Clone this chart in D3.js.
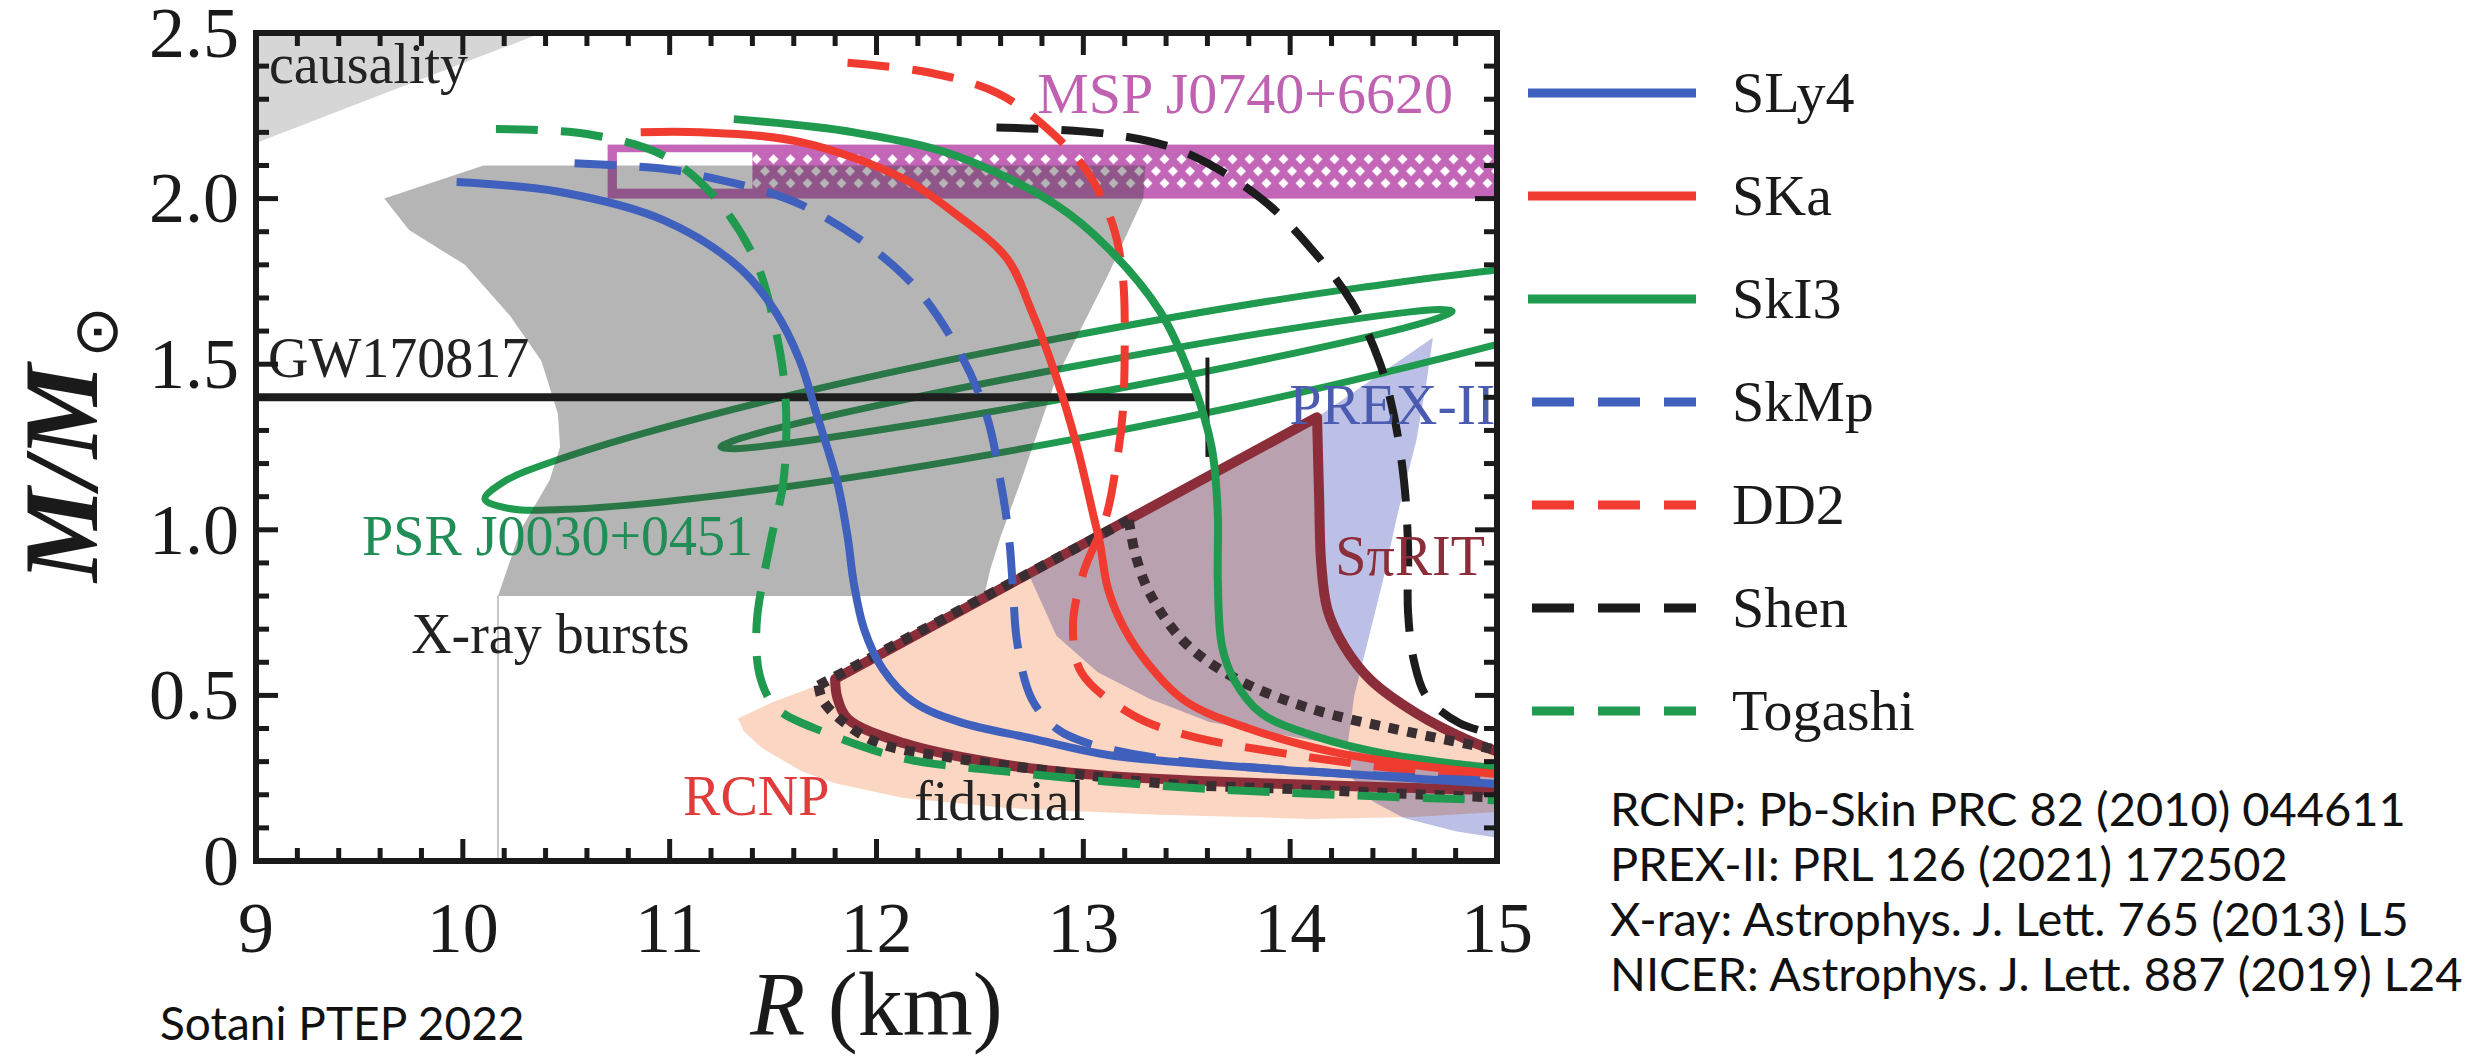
<!DOCTYPE html>
<html>
<head>
<meta charset="utf-8">
<title>Neutron star mass–radius constraints</title>
<script src="https://cdn.jsdelivr.net/npm/d3@7/dist/d3.min.js"></script>
<style>
  html, body { margin: 0; padding: 0; background: #ffffff; }
  svg { display: block; }
</style>
</head>
<body>
<svg id="chart" width="2481" height="1062"></svg>
<script>
// ---------- axis ranges and tick labels ----------
const radiusDomain = [9, 15];
const massDomain = [0, 2.5];
const radiusTicks = [9, 10, 11, 12, 13, 14, 15];
const radiusTickLabels = ["9", "10", "11", "12", "13", "14", "15"];
const massTicks = [0, 0.5, 1.0, 1.5, 2.0, 2.5];
const massTickLabels = ["0", "0.5", "1.0", "1.5", "2.0", "2.5"];

// ---------- EOS mass–radius relations, points are [R (km), M/Msun] ----------
const eosNames = ["SLy4", "SKa", "SkI3", "SkMp", "DD2", "Shen", "Togashi"];
const sly4 = [[9.97,2.05],[10.47,2.02],[10.97,1.935],[11.34,1.79],[11.51,1.66],[11.63,1.51],[11.71,1.35],[11.81,1.145],[11.86,0.98],[11.89,0.84],[11.94,0.70],[12.03,0.58],[12.18,0.48],[12.40,0.42],[12.75,0.37],[13.12,0.32],[13.86,0.28],[14.35,0.26],[15.05,0.23]];
const ska = [[10.86,2.20],[11.15,2.20],[11.64,2.17],[12.13,2.06],[12.38,1.955],[12.63,1.82],[12.75,1.66],[12.87,1.46],[12.97,1.25],[13.05,1.04],[13.08,0.96],[13.12,0.82],[13.20,0.70],[13.32,0.59],[13.50,0.48],[13.80,0.40],[14.20,0.33],[14.60,0.29],[15.05,0.26]];
const ski3 = [[11.31,2.24],[11.89,2.20],[12.38,2.13],[12.87,1.98],[13.12,1.85],[13.37,1.66],[13.52,1.46],[13.62,1.25],[13.65,1.05],[13.65,0.85],[13.67,0.65],[13.73,0.546],[13.86,0.446],[14.13,0.375],[14.45,0.325],[15.05,0.275]];
const skmp = [[10.54,2.107],[10.97,2.09],[11.15,2.07],[11.64,1.98],[12.13,1.77],[12.38,1.56],[12.53,1.35],[12.60,1.145],[12.64,0.98],[12.66,0.82],[12.68,0.66],[12.75,0.49],[12.87,0.40],[13.02,0.356],[13.37,0.31],[14.10,0.27],[15.05,0.24]];
const dd2 = [[11.86,2.41],[12.26,2.38],[12.58,2.32],[12.82,2.215],[13.02,2.08],[13.14,1.925],[13.19,1.77],[13.20,1.56],[13.19,1.35],[13.16,1.20],[13.11,1.04],[13.00,0.87],[12.95,0.71],[12.99,0.57],[13.24,0.44],[13.50,0.38],[13.97,0.325],[14.50,0.28],[15.05,0.25]];
const shen = [[12.58,2.215],[13.12,2.195],[13.49,2.14],[13.86,2.00],[14.10,1.85],[14.30,1.685],[14.43,1.51],[14.50,1.35],[14.55,1.15],[14.57,0.95],[14.57,0.75],[14.60,0.60],[14.66,0.496],[14.82,0.416],[15.05,0.375]];
const togashi = [[10.16,2.21],[10.60,2.195],[10.97,2.13],[11.21,2.01],[11.41,1.82],[11.51,1.61],[11.56,1.40],[11.55,1.145],[11.49,0.97],[11.42,0.71],[11.44,0.55],[11.52,0.46],[11.76,0.386],[12.13,0.31],[12.63,0.27],[13.37,0.227],[14.10,0.203],[15.05,0.182]];
const eosCurves = [sly4, ska, ski3, skmp, dd2, shen, togashi];

// ---------- observational and experimental constraints ----------
const causalityRegion = [[9,2.5],[10.38,2.5],[9,2.168]];
const xrayBurstRegion = [[9.62,2.00],[10.10,2.10],[13.30,2.10],[13.29,2.00],[13.12,1.77],[12.87,1.46],[12.70,1.15],[12.60,0.98],[12.55,0.88],[12.52,0.80],[10.17,0.80],[10.28,1.00],[10.42,1.15],[10.47,1.25],[10.46,1.35],[10.38,1.51],[10.23,1.645],[10.01,1.80],[9.74,1.905]];
const xrayBurstFoot = [[10.17,0],[10.17,0.80]];
const mspBandRadius = [10.70, 15.05];
const mspBandMass = [2.00, 2.163];
const mspWindowRadius = [10.745, 11.40];
const mspHatchRadius = [11.40, 15.05];
const mspInnerMass = [2.03, 2.14];
const gw170817Line = [[9,1.40],[13.54,1.40]];
const gw170817Limit = [[13.60,1.22],[13.60,1.52]];
const psrEllipseA = [[15.81,1.770],[15.455,1.649],[14.426,1.470],[13.006,1.280],[11.574,1.131],[10.513,1.062],[10.217,1.065],[10.107,1.093],[10.193,1.143],[10.466,1.213],[11.494,1.393],[12.914,1.582],[14.347,1.732],[15.408,1.800]];
const psrEllipseB = [[14.783,1.660],[14.726,1.642],[14.554,1.610],[13.911,1.519],[13.029,1.410],[12.143,1.314],[11.491,1.255],[11.311,1.245],[11.248,1.250],[11.304,1.268],[11.477,1.300],[12.120,1.391],[13.002,1.499],[13.888,1.596],[14.540,1.655],[14.720,1.665]];
const rcnpRegion = [[11.33,0.43],[11.50,0.48],[11.80,0.55],[14.13,1.34],[14.14,0.95],[14.18,0.76],[14.26,0.65],[14.39,0.546],[14.61,0.446],[14.86,0.365],[15.05,0.32],[15.05,0.15],[14.60,0.133],[14.10,0.127],[13.37,0.14],[12.63,0.16],[12.13,0.19],[11.80,0.235],[11.64,0.27],[11.45,0.34],[11.36,0.39]];
const prexRegion = [[12.74,0.86],[14.13,1.34],[14.69,1.58],[14.66,1.45],[14.61,1.27],[14.52,1.05],[14.45,0.85],[14.37,0.65],[14.31,0.50],[14.28,0.36],[14.30,0.25],[14.40,0.18],[14.55,0.13],[14.80,0.09],[15.05,0.065],[15.05,0.29],[14.40,0.33],[14.10,0.365],[13.61,0.42],[13.32,0.49],[13.07,0.57],[12.87,0.68]];
const spiritUpper = [[11.80,0.55],[14.13,1.34]];
const spiritRight = [[14.13,1.34],[14.14,1.10],[14.15,0.90],[14.18,0.76],[14.26,0.65],[14.39,0.546],[14.61,0.446],[14.86,0.365],[15.05,0.32]];
const spiritLower = [[11.80,0.55],[11.81,0.495],[11.86,0.43],[12.13,0.356],[12.63,0.29],[13.12,0.257],[13.86,0.235],[15.05,0.213]];
const fiducialUpper = [[11.72,0.53],[13.22,1.03]];
const fiducialRight = [[13.22,1.03],[13.25,0.93],[13.32,0.81],[13.49,0.66],[13.74,0.55],[14.10,0.46],[14.60,0.386],[15.05,0.33]];
const fiducialLower = [[11.72,0.53],[11.74,0.485],[11.84,0.42],[12.01,0.356],[12.38,0.31],[12.87,0.27],[13.37,0.235],[14.10,0.215],[15.05,0.19]];

// ---------- annotation texts, anchored at [R, M] of the left baseline ----------
const annotationTexts = ["causality", "GW170817", "MSP J0740+6620", "PREX-II", "S\u03C0RIT", "PSR J0030+0451", "X-ray bursts", "RCNP", "fiducial"];
const annotationAnchors = [[9.063,2.349],[9.058,1.461],[12.777,2.258],[13.995,1.32],[14.218,0.8635],[9.513,0.925],[9.75,0.628],[11.065,0.139],[12.182,0.124]];

const footnote = "Sotani PTEP 2022";
const references = [
  "RCNP: Pb-Skin PRC 82 (2010) 044611",
  "PREX-II: PRL 126 (2021) 172502",
  "X-ray: Astrophys. J. Lett. 765 (2013) L5",
  "NICER: Astrophys. J. Lett. 887 (2019) L24"
];

// ---------- drawing ----------
const serif = "'Liberation Serif', 'Times New Roman', serif";
const sans = "Lato, 'Open Sans', 'Noto Sans', sans-serif";
const eosStyle = {
  SLy4:    { color: "#3f60bd", dash: null },
  SKa:     { color: "#f03b30", dash: null },
  SkI3:    { color: "#1f9a4e", dash: null },
  SkMp:    { color: "#3f60bd", dash: "42,23" },
  DD2:     { color: "#f03b30", dash: "42,23" },
  Shen:    { color: "#1c1c1c", dash: "42,23" },
  Togashi: { color: "#1f9a4e", dash: "42,23" }
};
const annotationStyle = ["#222", "#222", "#c062b2", "#4a5bb0", "#8c2d3a", "#1f8d55", "#222", "#e03c3c", "#222"];
const annotationSize = [56, 56, 58, 58, 56, 56, 56, 56, 56];

const svg = d3.select("#chart");
const x = d3.scaleLinear().domain(radiusDomain).range([256, 1497]);
const y = d3.scaleLinear().domain(massDomain).range([861, 33]);

const defs = svg.append("defs");
defs.append("clipPath").attr("id", "plot-clip")
  .append("rect").attr("x", x(9)).attr("y", y(2.5))
  .attr("width", x(15) - x(9)).attr("height", y(0) - y(2.5));

// white diamonds on a transparent tile, laid over the magenta band
const hatch = defs.append("pattern").attr("id", "msp-hatch")
  .attr("patternUnits", "userSpaceOnUse")
  .attr("width", 17).attr("height", 24).attr("x", 0).attr("y", y(2.14) + 1);
[[8.5, 6], [0, 18], [17, 18]].forEach(([cx, cy]) => {
  hatch.append("polygon")
    .attr("points", `${cx},${cy - 5} ${cx + 5},${cy} ${cx},${cy + 5} ${cx - 5},${cy}`)
    .attr("fill", "#ffffff");
});

const smooth = d3.line().x(d => x(d[0])).y(d => y(d[1])).curve(d3.curveCatmullRom.alpha(0.5));
const straight = d3.line().x(d => x(d[0])).y(d => y(d[1]));
const smoothClosed = d3.line().x(d => x(d[0])).y(d => y(d[1])).curve(d3.curveCatmullRomClosed.alpha(0.5));
const polygon = pts => straight(pts) + "Z";

const plot = svg.append("g").attr("clip-path", "url(#plot-clip)");

// causality-excluded corner
plot.append("path").attr("d", polygon(causalityRegion)).attr("fill", "#d6d6d6");

// nuclear experiment bands, blended so that overlaps darken
plot.append("path").attr("d", polygon(rcnpRegion)).attr("fill", "#fbd6c2")
  .style("mix-blend-mode", "multiply");
plot.append("path").attr("d", polygon(prexRegion)).attr("fill", "#bcc0e6")
  .style("mix-blend-mode", "multiply");

// NICER PSR J0030+0451 contours
[psrEllipseA, psrEllipseB].forEach(pts => {
  plot.append("path").attr("d", smoothClosed(pts))
    .attr("fill", "none").attr("stroke", "#1f9a4e").attr("stroke-width", 7);
});

// MSP J0740+6620 mass band
plot.append("rect")
  .attr("x", x(mspBandRadius[0])).attr("y", y(mspBandMass[1]))
  .attr("width", x(mspBandRadius[1]) - x(mspBandRadius[0]))
  .attr("height", y(mspBandMass[0]) - y(mspBandMass[1]))
  .attr("fill", "#c466b8");
plot.append("rect")
  .attr("x", x(mspWindowRadius[0])).attr("y", y(mspInnerMass[1]))
  .attr("width", x(mspWindowRadius[1]) - x(mspWindowRadius[0]))
  .attr("height", y(mspInnerMass[0]) - y(mspInnerMass[1]))
  .attr("fill", "#ffffff");
plot.append("rect")
  .attr("x", x(mspHatchRadius[0])).attr("y", y(mspInnerMass[1]))
  .attr("width", x(mspHatchRadius[1]) - x(mspHatchRadius[0]))
  .attr("height", y(mspInnerMass[0]) - y(mspInnerMass[1]))
  .attr("fill", "url(#msp-hatch)");

// X-ray burst region, translucent so the bands underneath show through
plot.append("path").attr("d", polygon(xrayBurstRegion))
  .attr("fill", "#3c3c3c").attr("fill-opacity", 0.38);
plot.append("path").attr("d", straight(xrayBurstFoot))
  .attr("stroke", "#c8c8c8").attr("stroke-width", 2).attr("fill", "none");

// GW170817 upper limit on R_1.4
plot.append("path").attr("d", straight(gw170817Line))
  .attr("stroke", "#1e1e1e").attr("stroke-width", 8).attr("fill", "none");
plot.append("path").attr("d", straight(gw170817Limit))
  .attr("stroke", "#1e1e1e").attr("stroke-width", 4).attr("fill", "none");

// SpiRIT region outline
plot.append("path").attr("d", straight(spiritUpper))
  .attr("stroke", "#8c2d3a").attr("stroke-width", 10).attr("fill", "none").attr("stroke-linecap", "round");
[spiritRight, spiritLower].forEach(pts => {
  plot.append("path").attr("d", smooth(pts))
    .attr("stroke", "#8c2d3a").attr("stroke-width", 10).attr("fill", "none").attr("stroke-linejoin", "round");
});

// fiducial region outline (dotted)
plot.append("path").attr("d", straight(fiducialUpper))
  .attr("stroke", "#3a2e33").attr("stroke-width", 10).attr("stroke-dasharray", "10,9").attr("fill", "none");
[fiducialRight, fiducialLower].forEach(pts => {
  plot.append("path").attr("d", smooth(pts))
    .attr("stroke", "#3a2e33").attr("stroke-width", 10).attr("stroke-dasharray", "10,9").attr("fill", "none");
});

// EOS curves, dashed ones first
const drawOrder = [6, 5, 4, 3, 2, 1, 0];
drawOrder.forEach(i => {
  const st = eosStyle[eosNames[i]];
  plot.append("path").attr("d", smooth(eosCurves[i]))
    .attr("fill", "none").attr("stroke", st.color).attr("stroke-width", 8)
    .attr("stroke-dasharray", st.dash);
});

// annotations (kept inside the plot frame, so a label running into the axis is cut there)
const annotations = plot.append("g").attr("font-family", serif);
annotationTexts.forEach((t, i) => {
  annotations.append("text")
    .attr("x", x(annotationAnchors[i][0])).attr("y", y(annotationAnchors[i][1]))
    .attr("font-size", annotationSize[i])
    .attr("fill", annotationStyle[i]).text(t);
});

// frame and inward ticks on all four sides
const axisColor = "#1a1a1a";
const frame = svg.append("g");
const minorR = d3.range(9, 15.0001, 0.2);
const minorM = d3.range(0, 2.5001, 0.1);
const isMajor = (v, step) => Math.abs(v / step - Math.round(v / step)) < 1e-6;
minorR.forEach(v => {
  const len = isMajor(v, 1) ? 22 : 13;
  frame.append("line").attr("x1", x(v)).attr("x2", x(v)).attr("y1", y(0)).attr("y2", y(0) - len)
    .attr("stroke", axisColor).attr("stroke-width", 5);
  frame.append("line").attr("x1", x(v)).attr("x2", x(v)).attr("y1", y(2.5)).attr("y2", y(2.5) + len)
    .attr("stroke", axisColor).attr("stroke-width", 5);
});
minorM.forEach(v => {
  const len = isMajor(v, 0.5) ? 22 : 13;
  frame.append("line").attr("y1", y(v)).attr("y2", y(v)).attr("x1", x(9)).attr("x2", x(9) + len)
    .attr("stroke", axisColor).attr("stroke-width", 5);
  frame.append("line").attr("y1", y(v)).attr("y2", y(v)).attr("x1", x(15)).attr("x2", x(15) - len)
    .attr("stroke", axisColor).attr("stroke-width", 5);
});
frame.append("rect").attr("x", x(9)).attr("y", y(2.5))
  .attr("width", x(15) - x(9)).attr("height", y(0) - y(2.5))
  .attr("fill", "none").attr("stroke", axisColor).attr("stroke-width", 6);

// tick labels
const tickText = svg.append("g").attr("font-family", serif).attr("font-size", 72).attr("fill", "#1a1a1a");
radiusTicks.forEach((v, i) => {
  tickText.append("text").attr("x", x(v)).attr("y", 952).attr("text-anchor", "middle").text(radiusTickLabels[i]);
});
massTicks.forEach((v, i) => {
  tickText.append("text").attr("x", 239).attr("y", y(v)).attr("dy", "0.33em")
    .attr("text-anchor", "end").text(massTickLabels[i]);
});

// axis titles
const xTitle = svg.append("text").attr("x", (x(9) + x(15)) / 2).attr("y", 1035)
  .attr("text-anchor", "middle").attr("font-family", serif).attr("font-size", 90).attr("fill", "#1a1a1a");
xTitle.append("tspan").attr("font-style", "italic").text("R");
xTitle.append("tspan").text(" (km)");

const yTitle = svg.append("text").attr("transform", "translate(97,582) rotate(-90)")
  .attr("font-family", serif).attr("font-size", 106).attr("fill", "#1a1a1a");
yTitle.append("tspan").attr("font-style", "italic").attr("font-weight", "bold").text("M/M");
yTitle.append("tspan").attr("font-size", 62).attr("dx", 6).attr("dy", 20)
  .attr("font-family", "'DejaVu Sans', sans-serif").text("\u2299");

// legend
const legend = svg.append("g");
eosNames.forEach((name, i) => {
  const st = eosStyle[name];
  const ly = 93 + i * 103;
  legend.append("line").attr("x1", 1528).attr("x2", 1696).attr("y1", ly).attr("y2", ly)
    .attr("stroke", st.color).attr("stroke-width", 9)
    .attr("stroke-dasharray", st.dash ? "42,24" : null)
    .attr("stroke-dashoffset", st.dash ? -4 : null);
  legend.append("text").attr("x", 1732).attr("y", ly).attr("dy", "0.33em")
    .attr("font-family", serif).attr("font-size", 58).attr("fill", "#1a1a1a").text(name);
});

// source note and references
svg.append("text").attr("x", 160).attr("y", 1040).attr("font-family", sans)
  .attr("font-size", 46).attr("fill", "#111").text(footnote);
references.forEach((t, i) => {
  svg.append("text").attr("x", 1610).attr("y", 826 + i * 55).attr("font-family", sans)
    .attr("font-size", 47).attr("fill", "#111").text(t);
});
</script>
</body>
</html>
